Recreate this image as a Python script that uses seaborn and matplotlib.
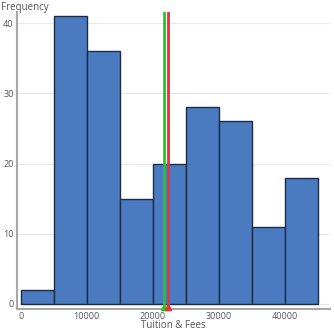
import matplotlib
matplotlib.use("Agg")
import matplotlib.pyplot as plt
import seaborn as sns
import numpy as np
import pandas as pd

bin_edges = [0, 5000, 10000, 15000, 20000, 25000, 30000, 35000, 40000, 45000]
counts = [2, 41, 36, 15, 20, 28, 26, 11, 18]
median_value = 21700
mean_value = 22250
x_ticks = [0, 10000, 20000, 30000, 40000]
y_ticks = [0, 10, 20, 30, 40]

centers = [(a + b) / 2 for a, b in zip(bin_edges[:-1], bin_edges[1:])]
df = pd.DataFrame({"tuition": centers, "count": counts})

sns.set_style("white")
plt.rcParams['font.family'] = ['Open Sans', 'DejaVu Sans']

fig = plt.figure(figsize=(3.34, 3.34), dpi=100)
ax = fig.add_axes([0.051, 0.076, 0.937, 0.888])

sns.histplot(data=df, x="tuition", weights="count", bins=bin_edges, ax=ax,
             color="#4a7bc0", edgecolor="#1e2b45", linewidth=1.0, alpha=1.0)

ax.set_xlim(-560, 46860)
ax.set_ylim(-0.67, 41.6)
ax.set_xticks(x_ticks)
ax.set_yticks(y_ticks)
ax.yaxis.grid(True, color="#e8e8e8", linewidth=0.8)
ax.set_axisbelow(True)

ax.axvline(median_value, color="#1fcc1f", linewidth=2, zorder=5)
ax.axvline(mean_value, color="#f03030", linewidth=2, zorder=5)
ax.plot([median_value], [-0.5], marker="^", color="#1fcc1f", markersize=4, clip_on=False, zorder=6)
ax.plot([mean_value], [-0.5], marker="^", color="#f03030", markersize=4, clip_on=False, zorder=6)

for s in ["top", "right"]:
    ax.spines[s].set_visible(False)
for s in ["left", "bottom"]:
    ax.spines[s].set_color("#a8a8a8")
    ax.spines[s].set_linewidth(1.5)

ax.tick_params(axis="both", labelsize=6.5, colors="#555555", length=2, width=0.8,
               direction="out", pad=0.5)
ax.tick_params(axis="both", color="#888888")
ax.set_xlabel("Tuition & Fees", fontsize=7, color="#555555", labelpad=-0.5)
ax.set_ylabel("")
fig.text(0.003, 0.995, "Frequency", fontsize=7, color="#555555", ha="left", va="top")

fig.savefig("out.png", dpi=100)
